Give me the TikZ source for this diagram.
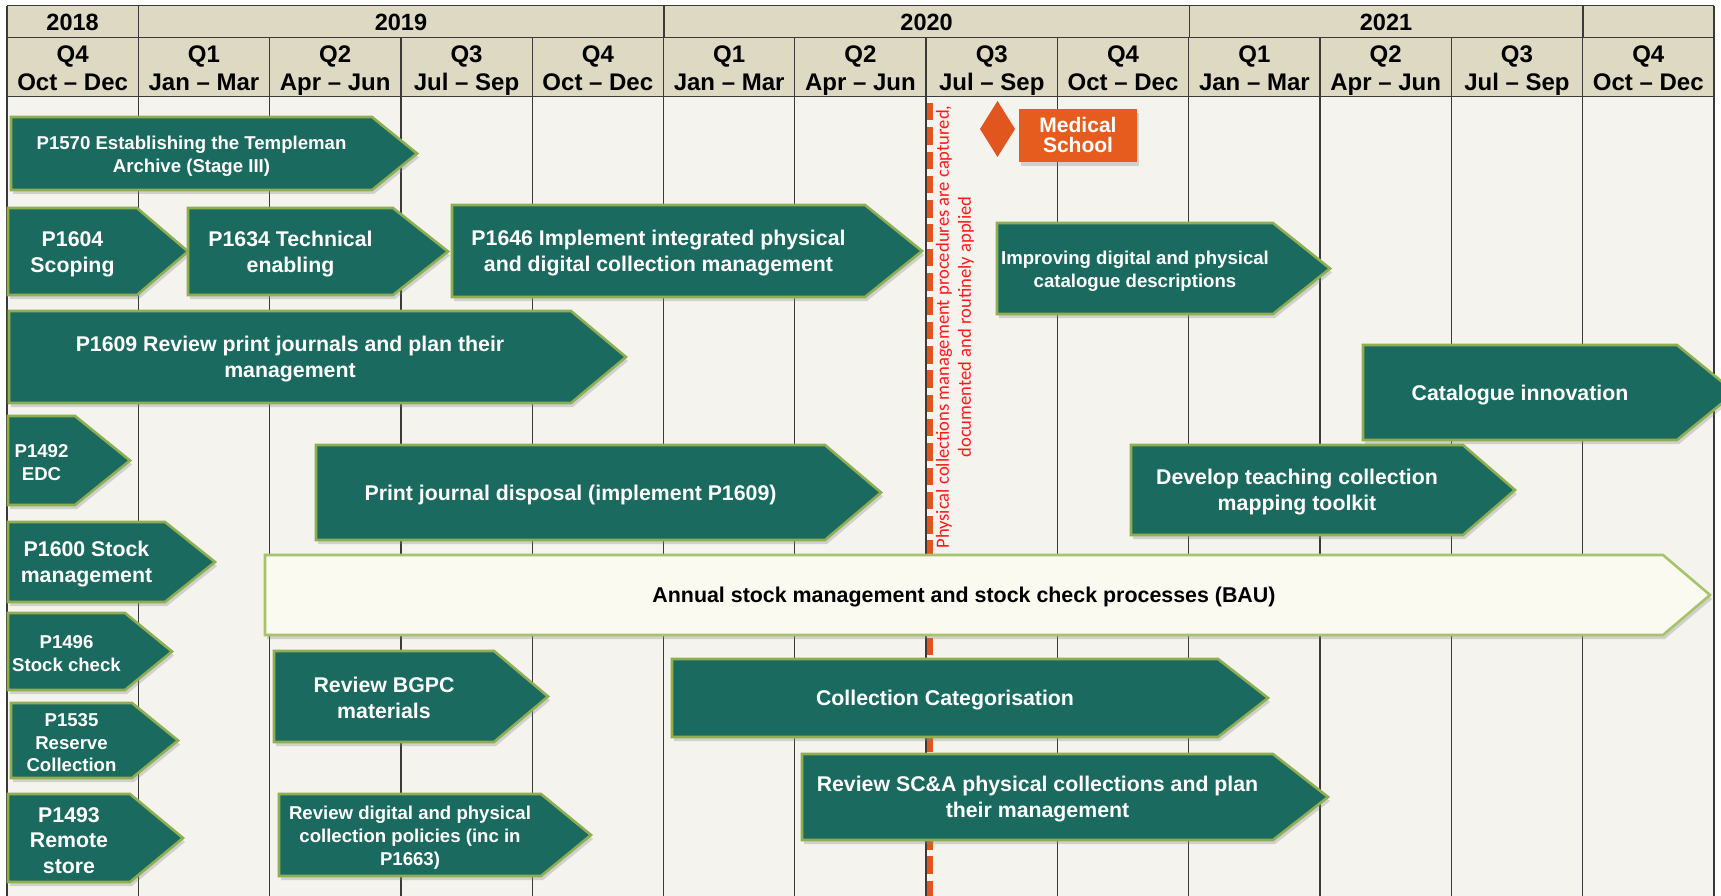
\documentclass[tikz,border=0pt]{standalone}
\usepackage{fontspec}
\setmainfont{Liberation Sans}
\newfontfamily\calib{Carlito}
\usetikzlibrary{shadows}
\definecolor{hdr}{HTML}{DDD9C3}
\definecolor{bodybg}{HTML}{F4F3EE}
\definecolor{tealc}{HTML}{1B6A60}
\definecolor{grn}{HTML}{8FAE52}
\definecolor{grnl}{HTML}{A6C46A}
\definecolor{cream}{HTML}{FBFAF0}
\definecolor{orng}{HTML}{E0561E}
\definecolor{orngbox}{HTML}{E65C1F}
\definecolor{gridc}{HTML}{3A3A3A}
\definecolor{notered}{HTML}{FF1A1A}
\newcommand{\chev}[7]{%
  \draw[#7] (#2,#3) -- (#4,#3) -- (#5,{(#3+#6)/2}) -- (#4,#6) -- (#2,#6) -- cycle;
  \coordinate (#1) at ({(#2+#4)/2},{(#3+#6)/2});}
\tikzset{
  shad/.style={drop shadow={opacity=0.3,shadow xshift=2pt,shadow yshift=-4pt}},
  gbar/.style={shad,fill=tealc,draw=grn,line width=2.6pt,line join=miter},
  wbar/.style={shad,fill=cream,draw=grnl,line width=2.6pt,line join=miter},
  btxt/.style={text=white,font=\bfseries\fontsize{21.3}{26}\selectfont,align=center,inner sep=0pt,yshift=-2.5pt},
  stxt/.style={text=white,font=\bfseries\fontsize{18.6}{23}\selectfont,align=center,inner sep=0pt,yshift=-2.5pt},
  ktxt/.style={text=black,font=\bfseries\fontsize{21.4}{25}\selectfont,align=center,inner sep=0pt,yshift=-2.5pt},
  yeartxt/.style={font=\bfseries\fontsize{23.5}{26}\selectfont,inner sep=0pt,yshift=-1pt},
  qtxt/.style={font=\bfseries\fontsize{24}{28}\selectfont,align=center,inner sep=0pt,text depth=0pt},
  gridline/.style={draw=gridc,line width=1.3pt},
}
\begin{document}
\begin{tikzpicture}[x=1pt,y=-1pt]
\useasboundingbox (0,0) rectangle (1721,896);
\clip (0,0) rectangle (1721,896);
\fill[white] (0,0) rectangle (1721,896);
% header and body
\fill[hdr] (7,5.7) rectangle (1714,96.7);
\fill[bodybg] (7,96.7) rectangle (1714,896);
\draw[gridline] (7,5.7) -- (1714,5.7);
\draw[gridline] (7,37.3) -- (1714,37.3);
\draw[gridline] (7,96.7) -- (1714,96.7);
\foreach \xx in {7,138.3,664,1189.2,1583,1714}
  \draw[gridline] (\xx,5.7) -- (\xx,37.3);
\foreach \i in {0,...,13}
  \draw[gridline] ({7+131.3*\i},37.3) -- ({7+131.3*\i},896);
% years
\node[yeartxt] (y2018) at (72.6,21.5) {2018};
\node[yeartxt] (y2019) at (401,21.5) {2019};
\node[yeartxt] (y2020) at (926.6,21.5) {2020};
\node[yeartxt] (y2021) at (1386,21.5) {2021};
% quarters
\foreach \i/\q/\m in {0/Q4/Oct – Dec,1/Q1/Jan – Mar,2/Q2/Apr – Jun,3/Q3/Jul – Sep,4/Q4/Oct – Dec,
  5/Q1/Jan – Mar,6/Q2/Apr – Jun,7/Q3/Jul – Sep,8/Q4/Oct – Dec,
  9/Q1/Jan – Mar,10/Q2/Apr – Jun,11/Q3/Jul – Sep,12/Q4/Oct – Dec}
  \node[qtxt] (q\i) at ({7+131.3*\i+65.65},68.5) {\q\\\m};
% milestone line and note
\coordinate (msTop) at (930,103);
\coordinate (msBot) at (930,896);
\draw[orng,line width=6pt,dash pattern=on 17.5pt off 6.8pt] (msTop) -- (msBot);
\node[rotate=90,text=notered,font=\calib\fontsize{18.6}{22}\selectfont,align=center,inner sep=0pt]
  (note) at (955,327) {Physical collections management procedures are captured,\\documented and routinely applied};
% medical school milestone
\fill[orng] (997.5,101) -- (1015,129) -- (997.5,157) -- (980,129) -- cycle;
\fill[orngbox,shad] (1019,109) rectangle (1137,162);
\node[text=white,font=\bfseries\fontsize{21}{20}\selectfont,align=center,inner sep=0pt] (med) at (1078,134.5) {Medical\\School};
% bars
\chev{p1570}{11}{117}{372}{417}{190}{gbar}
\node[stxt] (t1570) at (p1570) {P1570 Establishing the Templeman\\Archive (Stage III)};
\chev{p1604}{8}{208}{137}{188}{295}{gbar}
\node[btxt] (t1604) at (p1604) {P1604\\Scoping};
\chev{p1634}{188}{208}{393}{448}{295}{gbar}
\node[btxt] (t1634) at (p1634) {P1634 Technical\\enabling};
\chev{p1646}{452}{205}{865}{922}{297}{gbar}
\node[btxt] (t1646) at (p1646) {P1646 Implement integrated physical\\and digital collection management};
\chev{impr}{997}{223}{1273}{1330}{314}{gbar}
\node[stxt] (timpr) at (impr) {Improving digital and physical\\catalogue descriptions};
\chev{p1609}{9}{311}{571}{626}{403}{gbar}
\node[btxt] (t1609) at (p1609) {P1609 Review print journals and plan their\\management};
\chev{catinn}{1363}{345}{1677}{1735}{440}{gbar}
\node[btxt] (tcatinn) at (catinn) {Catalogue innovation};
\chev{p1492}{8}{416}{75}{130}{505}{gbar}
\node[stxt] (t1492) at (p1492) {P1492\\EDC};
\chev{pjd}{316}{445}{825}{881}{540}{gbar}
\node[btxt] (tpjd) at (pjd) {Print journal disposal (implement P1609)};
\chev{dev}{1131}{445}{1463}{1515}{535}{gbar}
\node[btxt] (tdev) at (dev) {Develop teaching collection\\mapping toolkit};
\chev{p1600}{8}{522}{165}{215}{602}{gbar}
\node[btxt] (t1600) at (p1600) {P1600 Stock\\management};
\chev{bau}{265}{555}{1663}{1710}{635}{wbar}
\node[ktxt] (tbau) at (bau) {Annual stock management and stock check processes (BAU)};
\chev{p1496}{8}{613}{125}{172}{690}{gbar}
\node[stxt] (t1496) at (p1496) {P1496\\Stock check};
\chev{bgpc}{274}{651}{494}{548}{742}{gbar}
\node[btxt,yshift=1.5pt] (tbgpc) at (bgpc) {Review BGPC\\materials};
\chev{colcat}{672}{659}{1218}{1268}{737}{gbar}
\node[btxt] (tcolcat) at (colcat) {Collection Categorisation};
\chev{p1535}{11}{703}{132}{178}{778}{gbar}
\node[text=white,font=\bfseries\fontsize{18.6}{22.5}\selectfont,align=center,inner sep=0pt,yshift=-2.5pt] (t1535) at (p1535) {P1535\\Reserve\\Collection};
\chev{scna}{802}{754}{1273}{1328}{840}{gbar}
\node[btxt] (tscna) at (scna) {Review SC\&A physical collections and plan\\their management};
\chev{p1493}{8}{794}{130}{183}{882}{gbar}
\node[text=white,font=\bfseries\fontsize{21.3}{25.5}\selectfont,align=center,inner sep=0pt,yshift=-2.5pt] (t1493) at (p1493) {P1493\\Remote\\store};
\chev{rdp}{279}{794}{541}{591}{876}{gbar}
\node[stxt] (trdp) at (rdp) {Review digital and physical\\collection policies (inc in\\P1663)};
\end{tikzpicture}
\end{document}
